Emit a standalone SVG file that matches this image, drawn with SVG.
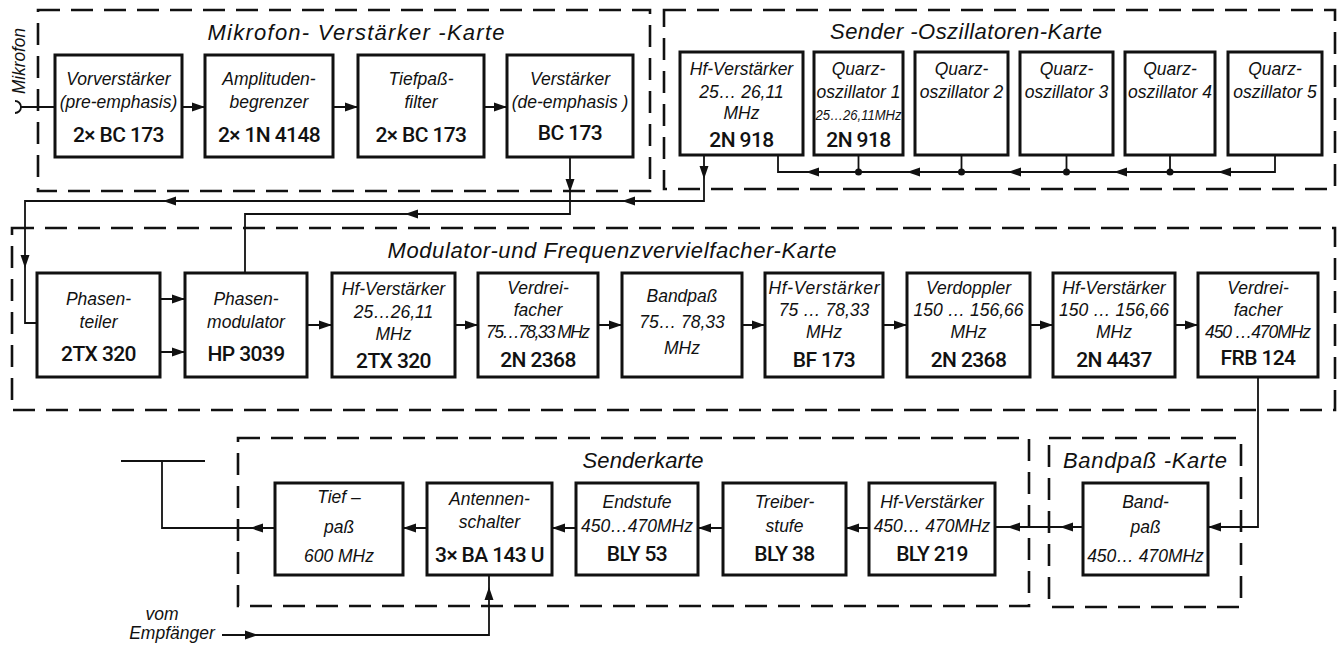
<svg xmlns="http://www.w3.org/2000/svg" xmlns:xlink="http://www.w3.org/1999/xlink" width="1337" height="648" viewBox="0 0 1337 648">
<style>
.card{fill:none;stroke:#111;stroke-width:2.6;stroke-dasharray:22 11}
.box{fill:none;stroke:#111;stroke-width:3}
.ln{fill:none;stroke:#111;stroke-width:1.8}
.t{font-family:"Liberation Sans",Arial,sans-serif;font-style:italic;font-size:22px;fill:#111;text-anchor:middle}
.d{font-family:"Liberation Sans",Arial,sans-serif;font-style:italic;font-size:17.5px;fill:#111;text-anchor:middle}
.p{font-family:Roboto,"Liberation Sans",Arial,sans-serif;font-weight:500;font-size:21px;fill:#111;text-anchor:middle;letter-spacing:-0.6px}
.s{font-size:15px}
.dot{fill:#111}
</style>
<defs>
<path id="ah" d="M0,0 L-13,-4.5 L-13,4.5 Z" fill="#111"/>
</defs>
<rect width="1337" height="648" fill="#fff"/>

<g id="cards">
<g id="card-mikrofon"><rect class="card" x="38" y="10" width="612" height="181"/><text class="t" x="356" y="40" textLength="297">Mikrofon- Verstärker -Karte</text></g>
<g id="card-sender-osz"><rect class="card" x="664" y="10" width="671" height="179"/><text class="t" x="966" y="39" textLength="272">Sender -Oszillatoren-Karte</text></g>
<g id="card-modulator"><rect class="card" x="12" y="228" width="1323" height="182"/><text class="t" x="612" y="258" textLength="449">Modulator-und Frequenzvervielfacher-Karte</text></g>
<g id="card-sender"><rect class="card" x="238" y="438" width="791" height="168"/><text class="t" x="643" y="468" textLength="121">Senderkarte</text></g>
<g id="card-bandpass"><rect class="card" x="1049" y="438" width="192" height="169"/><text class="t" x="1145" y="468" textLength="164">Bandpaß -Karte</text></g>
</g>

<g id="mic-label"><text class="d" transform="translate(25,61) rotate(-90)" font-size="17" textLength="66" lengthAdjust="spacingAndGlyphs">Mikrofon</text></g>

<g id="n-vorverstaerker"><rect class="box" x="55" y="55" width="127" height="102"/><text class="d" x="118.5" y="85">Vorverstärker</text><text class="d" x="118.5" y="108">(pre-emphasis)</text><text class="p" x="118.5" y="142">2× BC 173</text></g>
<g id="n-amplituden"><rect class="box" x="205" y="55" width="128" height="102"/><text class="d" x="269" y="85">Amplituden-</text><text class="d" x="269" y="108">begrenzer</text><text class="p" x="269" y="142">2× 1N 4148</text></g>
<g id="n-tiefpassfilter"><rect class="box" x="358" y="55" width="126" height="102"/><text class="d" x="421" y="85">Tiefpaß-</text><text class="d" x="421" y="108">filter</text><text class="p" x="421" y="142">2× BC 173</text></g>
<g id="n-verstaerker-de"><rect class="box" x="507" y="55" width="126" height="102"/><text class="d" x="570" y="85">Verstärker</text><text class="d" x="570" y="108">(de-emphasis )</text><text class="p" x="570" y="140">BC 173</text></g>

<g id="o-hf"><rect class="box" x="680" y="52" width="123" height="103"/><text class="d" x="741.5" y="75">Hf-Verstärker</text><text class="d" x="741.5" y="98">25… 26,11</text><text class="d" x="741.5" y="119">MHz</text><text class="p" x="741.5" y="147">2N 918</text></g>
<g id="o-q1"><rect class="box" x="814" y="52" width="89" height="103"/><text class="d" x="858.5" y="75">Quarz-</text><text class="d" x="858.5" y="98" textLength="84">oszillator 1</text><text class="d s" x="858.5" y="120" textLength="86" lengthAdjust="spacingAndGlyphs">25…26,11MHz</text><text class="p" x="858.5" y="147">2N 918</text></g>
<g id="o-q2"><rect class="box" x="915" y="52" width="93" height="103"/><text class="d" x="961.5" y="75">Quarz-</text><text class="d" x="961.5" y="98">oszillator 2</text></g>
<g id="o-q3"><rect class="box" x="1020" y="52" width="93" height="103"/><text class="d" x="1066.5" y="75">Quarz-</text><text class="d" x="1066.5" y="98">oszillator 3</text></g>
<g id="o-q4"><rect class="box" x="1125" y="52" width="90" height="103"/><text class="d" x="1170" y="75">Quarz-</text><text class="d" x="1170" y="98" textLength="84">oszillator 4</text></g>
<g id="o-q5"><rect class="box" x="1228" y="52" width="94" height="103"/><text class="d" x="1275" y="75">Quarz-</text><text class="d" x="1275" y="98">oszillator 5</text></g>

<g id="m-phasenteiler"><rect class="box" x="37" y="273" width="123" height="104"/><text class="d" x="98.5" y="305">Phasen-</text><text class="d" x="98.5" y="328">teiler</text><text class="p" x="98.5" y="361">2TX 320</text></g>
<g id="m-phasenmodulator"><rect class="box" x="185" y="273" width="122" height="104"/><text class="d" x="246" y="305">Phasen-</text><text class="d" x="246" y="328">modulator</text><text class="p" x="246" y="361">HP 3039</text></g>
<g id="m-hf1"><rect class="box" x="332" y="273" width="123" height="104"/><text class="d" x="393.5" y="295">Hf-Verstärker</text><text class="d" x="393.5" y="318">25…26,11</text><text class="d" x="393.5" y="340">MHz</text><text class="p" x="393.5" y="368">2TX 320</text></g>
<g id="m-verdreifacher1"><rect class="box" x="478" y="273" width="120" height="104"/><text class="d" x="538" y="294">Verdrei-</text><text class="d" x="538" y="316">facher</text><text class="d" x="538" y="338" textLength="104">75…78,33 MHz</text><text class="p" x="538" y="367">2N 2368</text></g>
<g id="m-bandpass"><rect class="box" x="622" y="273" width="120" height="104"/><text class="d" x="682" y="302">Bandpaß</text><text class="d" x="682" y="328">75… 78,33</text><text class="d" x="682" y="354">MHz</text></g>
<g id="m-hf2"><rect class="box" x="765" y="273" width="118" height="104"/><text class="d" x="824" y="294" textLength="111">Hf-Verstärker</text><text class="d" x="824" y="316">75 … 78,33</text><text class="d" x="824" y="338">MHz</text><text class="p" x="824" y="367">BF 173</text></g>
<g id="m-verdoppler"><rect class="box" x="907" y="273" width="123" height="104"/><text class="d" x="968.5" y="294">Verdoppler</text><text class="d" x="968.5" y="316">150 … 156,66</text><text class="d" x="968.5" y="338">MHz</text><text class="p" x="968.5" y="367">2N 2368</text></g>
<g id="m-hf3"><rect class="box" x="1053" y="273" width="122" height="104"/><text class="d" x="1114" y="294">Hf-Verstärker</text><text class="d" x="1114" y="316">150 … 156,66</text><text class="d" x="1114" y="338">MHz</text><text class="p" x="1114" y="367">2N 4437</text></g>
<g id="m-verdreifacher2"><rect class="box" x="1198" y="273" width="120" height="104"/><text class="d" x="1258" y="294">Verdrei-</text><text class="d" x="1258" y="316">facher</text><text class="d" x="1258" y="338" textLength="106">450 …470MHz</text><text class="p" x="1258" y="365">FRB 124</text></g>

<g id="s-tiefpass"><rect class="box" x="275" y="483" width="128" height="92"/><text class="d" x="339" y="503">Tief –</text><text class="d" x="339" y="533">paß</text><text class="d" x="339" y="562">600 MHz</text></g>
<g id="s-antennenschalter"><rect class="box" x="427" y="483" width="125" height="92"/><text class="d" x="489.5" y="505">Antennen-</text><text class="d" x="489.5" y="528">schalter</text><text class="p" x="489.5" y="562">3× BA 143 U</text></g>
<g id="s-endstufe"><rect class="box" x="576" y="483" width="122" height="92"/><text class="d" x="637" y="508">Endstufe</text><text class="d" x="637" y="532">450…470MHz</text><text class="p" x="637" y="561">BLY 53</text></g>
<g id="s-treiber"><rect class="box" x="723" y="483" width="123" height="92"/><text class="d" x="784.5" y="508">Treiber-</text><text class="d" x="784.5" y="532">stufe</text><text class="p" x="784.5" y="561">BLY 38</text></g>
<g id="s-hf"><rect class="box" x="869" y="483" width="126" height="92"/><text class="d" x="932" y="508">Hf-Verstärker</text><text class="d" x="932" y="532">450… 470MHz</text><text class="p" x="932" y="561">BLY 219</text></g>
<g id="b-bandpass"><rect class="box" x="1083" y="483" width="125" height="92"/><text class="d" x="1145.5" y="508">Band-</text><text class="d" x="1145.5" y="533">paß</text><text class="d" x="1145.5" y="562">450… 470MHz</text></g>

<g id="empfaenger-label"><text class="d" x="162" y="620">vom</text><text class="d" x="172" y="639">Empfänger</text></g>

<g id="connectors">
<path class="ln" d="M15,101 A6,6 0 0 1 15,113"/>
<path class="ln" d="M21,107 H55"/>
<path class="ln" d="M182,107 H205 M333,107 H358 M484,107 H507"/>
<use xlink:href="#ah" transform="translate(205,107)"/>
<use xlink:href="#ah" transform="translate(358,107)"/>
<use xlink:href="#ah" transform="translate(507,107)"/>
<path class="ln" d="M570,157 V214 H245 V273"/>
<use xlink:href="#ah" transform="translate(570,192) rotate(90)"/>
<use xlink:href="#ah" transform="translate(405,214) rotate(180)"/>
<path class="ln" d="M704,155 V201 H25 V323 H37"/>
<use xlink:href="#ah" transform="translate(704,179) rotate(90)"/>
<use xlink:href="#ah" transform="translate(622,201) rotate(180)"/>
<use xlink:href="#ah" transform="translate(163,201) rotate(180)"/>
<use xlink:href="#ah" transform="translate(25,268) rotate(90)"/>
<path class="ln" d="M778,155 V172 H1275 V155 M858.5,155 V172 M961.5,155 V172 M1066.5,155 V172 M1170,155 V172"/>
<circle class="dot" cx="858.5" cy="172" r="3.5"/>
<circle class="dot" cx="961.5" cy="172" r="3.5"/>
<circle class="dot" cx="1066.5" cy="172" r="3.5"/>
<circle class="dot" cx="1170" cy="172" r="3.5"/>
<use xlink:href="#ah" transform="translate(806,172) rotate(180)"/>
<use xlink:href="#ah" transform="translate(907,172) rotate(180)"/>
<use xlink:href="#ah" transform="translate(1008,172) rotate(180)"/>
<use xlink:href="#ah" transform="translate(1114,172) rotate(180)"/>
<use xlink:href="#ah" transform="translate(1218,172) rotate(180)"/>
<path class="ln" d="M160,299 H185 M160,352 H185 M307,325 H332 M455,325 H478 M598,325 H622 M742,325 H765 M883,325 H907 M1030,325 H1053 M1175,325 H1198"/>
<use xlink:href="#ah" transform="translate(185,299)"/>
<use xlink:href="#ah" transform="translate(185,352)"/>
<use xlink:href="#ah" transform="translate(332,325)"/>
<use xlink:href="#ah" transform="translate(478,325)"/>
<use xlink:href="#ah" transform="translate(622,325)"/>
<use xlink:href="#ah" transform="translate(765,325)"/>
<use xlink:href="#ah" transform="translate(907,325)"/>
<use xlink:href="#ah" transform="translate(1053,325)"/>
<use xlink:href="#ah" transform="translate(1198,325)"/>
<path class="ln" d="M1258,377 V527 H1208"/>
<use xlink:href="#ah" transform="translate(1208,527) rotate(180)"/>
<path class="ln" d="M1083,527 H995"/>
<use xlink:href="#ah" transform="translate(1060,527) rotate(180)"/>
<use xlink:href="#ah" transform="translate(1007,527) rotate(180)"/>
<path class="ln" d="M869,528 H846 M723,528 H698 M576,528 H552 M427,528 H403"/>
<use xlink:href="#ah" transform="translate(846,528) rotate(180)"/>
<use xlink:href="#ah" transform="translate(698,528) rotate(180)"/>
<use xlink:href="#ah" transform="translate(552,528) rotate(180)"/>
<use xlink:href="#ah" transform="translate(403,528) rotate(180)"/>
<path class="ln" d="M275,528 H162 V461"/>
<use xlink:href="#ah" transform="translate(250,528) rotate(180)"/>
<path class="ln" d="M121,461 H205" stroke-width="3"/>
<path class="ln" d="M222,635 H489 V575"/>
<use xlink:href="#ah" transform="translate(258,635)"/>
<use xlink:href="#ah" transform="translate(489,587) rotate(-90)"/>
</g>
</svg>
